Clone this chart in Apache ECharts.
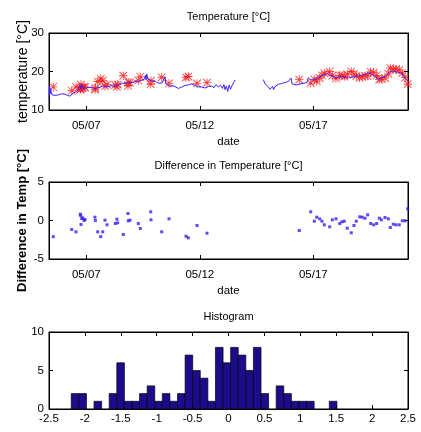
<!DOCTYPE html>
<html>
<head>
<meta charset="utf-8">
<script src="https://cdn.jsdelivr.net/npm/echarts@6/dist/echarts.min.js"></script>
<style>
  html, body { margin: 0; padding: 0; background: #ffffff; }
  #main { width: 421px; height: 432px; }
</style>
</head>
<body>
<div id="main"></div>
<script>
// continuous temperature record (blue line), null = logger gap
const blueTimes = [
  '05-05 08:35', '05-05 09:10', '05-05 09:40', '05-05 10:20', '05-05 11:30', '05-05 14:00', '05-05 18:20', '05-05 22:00',
  '05-06 01:30', '05-06 04:00', '05-06 06:45', '05-06 10:15', '05-06 13:50', '05-06 16:00', '05-06 17:20', '05-06 18:30',
  '05-06 19:30', '05-06 21:00', '05-06 23:00', '05-07 02:00', '05-07 05:00', '05-07 09:10', '05-07 14:30', '05-07 18:00',
  '05-07 21:30', '05-08 02:00', '05-08 06:20', '05-08 10:00', '05-08 13:25', '05-08 17:00', '05-08 20:25', '05-09 00:00',
  '05-09 03:30', '05-09 07:00', '05-09 10:35', '05-09 13:00', '05-09 14:30', '05-09 15:10', '05-09 16:00', '05-09 17:00',
  '05-09 21:10', '05-10 01:00', '05-10 04:10', '05-10 08:00', '05-10 10:00', '05-10 11:10', '05-10 12:00', '05-10 14:00',
  '05-10 16:30', '05-10 19:00', '05-10 21:45', '05-11 01:15', '05-11 04:30', '05-11 08:20', '05-11 12:00', '05-11 15:25',
  '05-11 19:00', '05-11 22:25', '05-12 02:00', '05-12 05:30', '05-12 09:00', '05-12 12:35', '05-12 15:00', '05-12 17:00',
  '05-12 19:35', '05-12 22:00', '05-13 00:00', '05-13 01:30', '05-13 02:40', '05-13 04:00', '05-13 05:30', '05-13 07:00',
  '05-13 08:30', '05-13 09:45', '05-13 11:00', '05-13 12:30', '05-13 13:10',
  '05-14 04:00',
  '05-14 19:10', '05-14 21:00', '05-14 23:00', '05-15 00:30', '05-15 02:00', '05-15 04:00', '05-15 05:00', '05-15 06:00',
  '05-15 07:30', '05-15 09:00', '05-15 11:00', '05-15 13:30', '05-15 16:15', '05-15 19:00', '05-15 21:30', '05-15 23:30',
  '05-16 00:30', '05-16 01:30', '05-16 03:00', '05-16 06:00', '05-16 08:00', '05-16 11:00', '05-16 15:10', '05-16 17:30',
  '05-16 18:45', '05-16 21:00', '05-17 00:00', '05-17 03:30', '05-17 07:00', '05-17 10:30', '05-17 14:10', '05-17 17:00',
  '05-17 20:00', '05-17 23:00', '05-18 02:30', '05-18 06:00', '05-18 09:30', '05-18 13:00', '05-18 16:30', '05-18 20:00',
  '05-18 23:30', '05-19 03:10', '05-19 06:30', '05-19 10:10', '05-19 13:00', '05-19 15:30', '05-19 18:00', '05-19 20:45',
  '05-19 23:30', '05-20 03:50', '05-20 06:30', '05-20 09:00', '05-20 12:00', '05-20 14:20', '05-20 18:00', '05-20 21:30',
  '05-21 01:00', '05-21 03:50'
];
const blueTemps = [
  13.2, 16.2, 14.2, 15.6, 14.0, 13.8, 13.9, 14.2,
  14.1, 13.8, 13.6, 14.4, 14.8, 15.6, 16.4, 15.4,
  16.6, 15.6, 16.1, 15.8, 15.9, 15.6, 15.9, 16.3,
  16.0, 16.3, 16.1, 16.6, 17.0, 16.8, 17.2, 17.1,
  17.4, 17.3, 17.8, 17.9, 19.0, 17.8, 19.3, 18.0,
  17.6, 17.4, 17.0, 17.0, 17.2, 18.6, 16.9, 17.3,
  16.1, 16.4, 16.1, 15.6, 15.9, 16.4, 16.5, 16.8,
  16.4, 16.0, 16.0, 15.7, 16.1, 16.2, 15.8, 16.6,
  16.0, 16.4, 15.6, 16.6, 15.3, 16.2, 14.8, 16.5,
  15.4, 16.2, 15.8, 17.4, 17.8,
  null,
  17.9, 16.8, 16.3, 16.0, 15.4, 15.1, 16.1, 15.3,
  16.1, 15.9, 16.7, 16.8, 17.0, 17.2, 17.4, 17.6,
  18.3, 16.8, 16.4, 16.5, 16.5, 16.8, 17.0, 17.3,
  18.4, 17.8, 17.8, 18.1, 18.7, 19.0, 19.5, 19.2,
  18.8, 18.4, 18.5, 18.7, 18.5, 18.3, 18.5, 18.7,
  18.9, 19.0, 19.2, 19.6, 19.4, 19.1, 18.5, 18.1,
  18.3, 18.7, 19.4, 20.0, 19.9, 20.0, 19.8, 19.6,
  18.3, 17.4
];

// spot measurements (red asterisks) and their difference to the record
const obsTimes = [
  '05-05 13:05', '05-06 08:35', '05-06 13:05', '05-06 17:40', '05-06 18:05', '05-06 18:25', '05-06 19:10', '05-06 20:10',
  '05-06 21:35', '05-06 22:40', '05-07 09:10', '05-07 09:35', '05-07 12:05', '05-07 15:15', '05-07 17:20', '05-07 19:45',
  '05-07 21:55', '05-08 06:40', '05-08 08:25', '05-08 09:10', '05-08 15:05', '05-08 20:05', '05-08 20:25', '05-08 22:10',
  '05-09 07:00', '05-09 09:05', '05-09 20:05', '05-09 20:25', '05-10 07:45', '05-10 15:25', '05-11 09:25', '05-11 11:50',
  '05-11 21:05', '05-12 07:35',
  '05-16 09:10', '05-16 21:15', '05-17 01:05', '05-17 03:35', '05-17 06:45', '05-17 09:10', '05-17 11:40', '05-17 17:20',
  '05-17 20:05', '05-18 00:00', '05-18 03:55', '05-18 06:20', '05-18 08:45', '05-18 11:55', '05-18 16:10', '05-18 19:00',
  '05-18 21:25', '05-19 01:05', '05-19 03:50', '05-19 06:40', '05-19 09:30', '05-19 12:40', '05-19 15:50', '05-19 19:00',
  '05-19 21:45', '05-19 23:55', '05-20 03:50', '05-20 07:20', '05-20 09:25', '05-20 12:35', '05-20 15:25', '05-20 18:55',
  '05-20 22:05', '05-21 01:00', '05-21 03:50'
];
const obsTemps = [
  16.0, 15.0, 16.0, 15.3, 15.5, 16.6, 15.8, 15.7,
  16.0, 15.9, 15.3, 15.7, 17.4, 18.1, 17.6, 16.2,
  16.6, 16.5, 16.0, 16.6, 18.9, 16.3, 17.2, 17.1,
  17.7, 18.6, 16.7, 17.6, 18.5, 16.9, 18.5, 18.7,
  16.9, 17.1,
  17.9, 17.0, 17.9, 17.5, 18.3, 19.0, 19.6, 20.0,
  18.9, 18.2, 19.0, 18.9, 18.7, 19.3, 20.0, 19.3,
  18.8, 18.4, 18.6, 18.9, 18.8, 19.9, 19.7, 19.0,
  17.9, 18.1, 18.3, 19.4, 20.9, 20.5, 20.6, 20.4,
  19.6, 18.4, 16.7
];
const obsDiffs = [
  -2.1, -1.17, -1.47, 0.82, 0.65, -0.52, 0.26, 0.35,
  0.0, 0.13, 0.43, 0.0, -1.47, -2.1, -1.47, 0.04,
  -0.56, -0.39, 0.17, -0.3, -1.82, 0.91, -0.04, 0.04,
  -0.39, -1.04, 1.13, 0.09, -1.47, 0.22, -2.04, -2.25,
  -0.65, -1.65,
  -1.3, 1.13, -0.09, 0.43, 0.22, -0.09, -0.56, -0.82,
  0.09, 0.22, -0.39, -0.17, -0.09, -1.0, -1.6, -0.65,
  -0.09, 0.48, 0.43, 0.3, 0.74, -0.39, -0.56, -0.39,
  0.3, 0.09, 0.39, 0.22, -0.91, -0.48, -0.56, -0.56,
  -0.04, -0.04, 1.52
];

// histogram of the differences: 35 equal bins between histLow and histHigh
const histLow = -2.19;
const histHigh = 1.51;
const histCounts = [
  2, 2, 0, 1, 0, 2, 6, 1, 1, 2, 3, 1, 2, 1, 2, 7, 5, 4,
  1, 8, 6, 8, 7, 5, 8, 2, 0, 3, 2, 1, 1, 1, 0, 0, 1
];

const dateTicks = ['05-07 00:00', '05-12 00:00', '05-17 00:00'];
const dateMin = '05-05 08:34';
const dateMax = '05-21 04:08';
const tempTicks = [10, 30, 10];     // min, max, step
const diffTicks = [-5, 5, 5];
const histXTicks = [-2.5, 2.5, 0.5];
const histYTicks = [0, 10, 5];

const toTime = s => new Date('2013/' + s.replace('-', '/')).getTime();

const chartDom = document.getElementById('main');
const myChart = echarts.init(chartDom);

const font = "'Liberation Sans', Arial, sans-serif";

const pad = n => (n < 10 ? '0' : '') + n;
const dateFmt = v => { const d = new Date(v); return pad(d.getMonth() + 1) + '/' + pad(d.getDate()); };

const tickValues = dateTicks.map(toTime);

// a MATLAB style '*' marker
const asterisk = 'path://M9 0L11 0L11 20L9 20Z M0 9L20 9L20 11L0 11Z ' +
  'M0.3 1.7L1.7 0.3L19.7 18.3L18.3 19.7Z M18.3 0.3L19.7 1.7L1.7 19.7L0.3 18.3Z';

const grids = [
  { left: 49, right: 13, top: 33, height: 77 },
  { left: 49, right: 13, top: 182, height: 77 },
  { left: 49, right: 13, top: 332, height: 77 }
];

const tickStyle = { show: true, inside: true, length: 4, lineStyle: { color: '#000', width: 1 } };
const labelStyle = { color: '#000', fontFamily: font, fontSize: 11.5 };
const titleStyle = { color: '#000', fontFamily: font, fontSize: 11, fontWeight: 'normal' };

// dates are plotted as plain millisecond values so the ticks can sit on 05/07, 05/12, 05/17
function dateAxis(gridIndex, mirror, withName) {
  return {
    type: 'value',
    gridIndex: gridIndex,
    position: mirror ? 'top' : 'bottom',
    min: toTime(dateMin),
    max: toTime(dateMax),
    scale: true,
    name: withName ? 'date' : '',
    nameLocation: 'middle',
    nameGap: 26,
    nameMoveOverlap: false,
    nameTextStyle: { color: '#000', fontFamily: font, fontSize: 11.5 },
    axisLine: { show: true, onZero: false, lineStyle: { color: '#000', width: 1 } },
    axisTick: Object.assign({ customValues: tickValues }, tickStyle),
    axisLabel: Object.assign({ show: !mirror, customValues: tickValues, formatter: dateFmt, margin: 10 }, labelStyle),
    splitLine: { show: false }
  };
}

function valueAxis(gridIndex, ticks, pos, extra) {
  return Object.assign({
    type: 'value',
    gridIndex: gridIndex,
    position: pos,
    min: ticks[0],
    max: ticks[1],
    interval: ticks[2],
    axisLine: { show: true, onZero: false, lineStyle: { color: '#000', width: 1 } },
    axisTick: tickStyle,
    axisLabel: Object.assign({ show: pos === 'left' || pos === 'bottom', margin: 5 }, labelStyle),
    splitLine: { show: false }
  }, extra || {});
}

const binWidth = (histHigh - histLow) / histCounts.length;
const histData = histCounts.map((c, i) => [histLow + i * binWidth, histLow + (i + 1) * binWidth, c]);

const option = {
  backgroundColor: '#ffffff',
  animation: false,
  title: [
    { text: 'Temperature [°C]', left: 228.5, top: 11, textAlign: 'center', padding: 0, textStyle: titleStyle },
    { text: 'Difference in Temperature [°C]', left: 228.5, top: 160, textAlign: 'center', padding: 0, textStyle: titleStyle },
    { text: 'Histogram', left: 228.5, top: 311, textAlign: 'center', padding: 0, textStyle: titleStyle }
  ],
  grid: grids.map(g => Object.assign({ show: true, borderColor: '#000', borderWidth: 1, backgroundColor: '#fff' }, g)),
  xAxis: [
    dateAxis(0, false, true),
    dateAxis(0, true, false),
    dateAxis(1, false, true),
    dateAxis(1, true, false),
    valueAxis(2, histXTicks, 'bottom', { axisLabel: Object.assign({ margin: 4 }, labelStyle) }),
    valueAxis(2, histXTicks, 'top', { axisLabel: { show: false } })
  ],
  yAxis: [
    valueAxis(0, tempTicks, 'left', {
      name: 'temperature [°C]', nameLocation: 'middle', nameGap: 19, nameMoveOverlap: false,
      nameTextStyle: { color: '#000', fontFamily: font, fontSize: 14 }
    }),
    valueAxis(0, tempTicks, 'right'),
    valueAxis(1, diffTicks, 'left', {
      name: 'Difference in Temp [°C]', nameLocation: 'middle', nameGap: 20, nameMoveOverlap: false,
      nameTextStyle: { color: '#000', fontFamily: font, fontSize: 13, fontWeight: 'bold' }
    }),
    valueAxis(1, diffTicks, 'right'),
    valueAxis(2, histYTicks, 'left'),
    valueAxis(2, histYTicks, 'right')
  ],
  series: [
    {
      name: 'record',
      type: 'line',
      xAxisIndex: 0,
      yAxisIndex: 0,
      showSymbol: false,
      connectNulls: false,
      data: blueTimes.map((t, i) => [toTime(t), blueTemps[i] === null ? '-' : blueTemps[i]]),
      lineStyle: { color: '#3d22ff', width: 1 }
    },
    {
      name: 'spot',
      type: 'scatter',
      xAxisIndex: 0,
      yAxisIndex: 0,
      symbol: asterisk,
      symbolSize: 8.5,
      data: obsTimes.map((t, i) => [toTime(t), obsTemps[i]]),
      itemStyle: { color: '#ff1a1a', opacity: 0.85 }
    },
    {
      name: 'difference',
      type: 'scatter',
      xAxisIndex: 2,
      yAxisIndex: 2,
      symbol: 'rect',
      symbolSize: 3,
      data: obsTimes.map((t, i) => [toTime(t), obsDiffs[i]]),
      itemStyle: { color: '#3a1cf0' }
    },
    {
      name: 'histogram',
      type: 'custom',
      xAxisIndex: 4,
      yAxisIndex: 4,
      data: histData,
      renderItem: function (params, api) {
        if (api.value(2) === 0) return null;
        const p0 = api.coord([api.value(0), api.value(2)]);
        const p1 = api.coord([api.value(1), 0]);
        return {
          type: 'rect',
          shape: { x: p0[0], y: p0[1], width: p1[0] - p0[0], height: p1[1] - p0[1] },
          style: { fill: '#1c0c8c', stroke: '#000', lineWidth: 0.7 }
        };
      }
    }
  ]
};

myChart.setOption(option);
</script>
</body>
</html>
